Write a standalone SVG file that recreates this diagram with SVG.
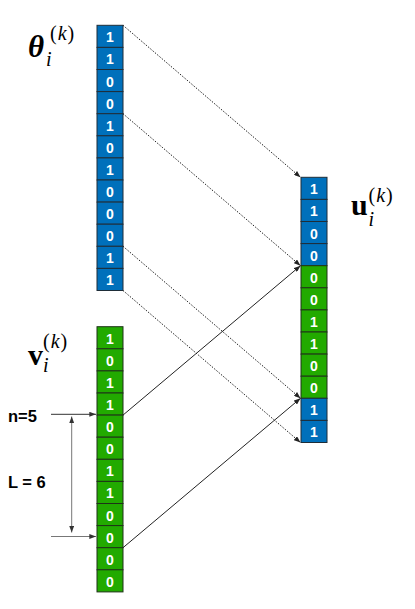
<svg xmlns="http://www.w3.org/2000/svg" width="415" height="609" viewBox="0 0 415 609">
<defs>
<marker id="ah" viewBox="0 0 8 6" refX="8" refY="3" markerWidth="7" markerHeight="5" markerUnits="userSpaceOnUse" orient="auto-start-reverse">
<path d="M0,0 L8,3 L0,6 Z" fill="#222"/>
</marker>
<marker id="ahg" viewBox="0 0 8 6" refX="8" refY="3" markerWidth="7" markerHeight="5" markerUnits="userSpaceOnUse" orient="auto-start-reverse">
<path d="M0,0 L8,3 L0,6 Z" fill="#333"/>
</marker>
</defs>
<style>
.b{fill:#0070BB;stroke:#1e2d38;stroke-width:1}
.g{fill:#22AA00;stroke:#1e3318;stroke-width:1}
.d{font-family:"Liberation Sans",Arial,sans-serif;font-size:14px;font-weight:bold;fill:#fff;text-anchor:middle}
.dot{stroke:#222;stroke-width:1;stroke-dasharray:1.5 1.5;fill:none}
.sol{stroke:#222;stroke-width:1;fill:none}
.lab{font-family:"Liberation Sans",Arial,sans-serif;font-size:16.5px;font-weight:bold;fill:#000}
.m{font-family:"Liberation Serif","Times New Roman",serif;fill:#000}
.sup{font-size:20px;letter-spacing:1px;font-weight:normal;font-style:normal}
.sub{font-size:20px;font-style:italic;font-weight:normal}
</style>
<rect width="415" height="609" fill="#fff"/>

<g id="theta">
<g class="cells">
<rect class="b" x="97" y="25.3" width="26" height="22.1"/><text class="d" x="110" y="42.3">1</text>
<rect class="b" x="97" y="47.4" width="26" height="22.1"/><text class="d" x="110" y="64.4">1</text>
<rect class="b" x="97" y="69.5" width="26" height="22.1"/><text class="d" x="110" y="86.5">0</text>
<rect class="b" x="97" y="91.6" width="26" height="22.1"/><text class="d" x="110" y="108.6">0</text>
<rect class="b" x="97" y="113.7" width="26" height="22.1"/><text class="d" x="110" y="130.7">1</text>
<rect class="b" x="97" y="135.8" width="26" height="22.1"/><text class="d" x="110" y="152.8">0</text>
<rect class="b" x="97" y="157.9" width="26" height="22.1"/><text class="d" x="110" y="174.9">1</text>
<rect class="b" x="97" y="180" width="26" height="22.1"/><text class="d" x="110" y="197">0</text>
<rect class="b" x="97" y="202.1" width="26" height="22.1"/><text class="d" x="110" y="219.1">0</text>
<rect class="b" x="97" y="224.2" width="26" height="22.1"/><text class="d" x="110" y="241.2">0</text>
<rect class="b" x="97" y="246.3" width="26" height="22.1"/><text class="d" x="110" y="263.3">1</text>
<rect class="b" x="97" y="268.4" width="26" height="22.1"/><text class="d" x="110" y="285.4">1</text>
</g>
<text class="m" x="28" y="57" font-size="31" font-weight="bold" font-style="italic">θ<tspan class="sup" x="50" y="40">(<tspan font-style="italic">k</tspan>)</tspan><tspan class="sub" x="46" y="66">i</tspan></text>
</g>

<g id="u">
<g class="cells">
<rect class="b" x="301" y="177.3" width="26" height="22.1"/><text class="d" x="314" y="194.3">1</text>
<rect class="b" x="301" y="199.4" width="26" height="22.1"/><text class="d" x="314" y="216.4">1</text>
<rect class="b" x="301" y="221.5" width="26" height="22.1"/><text class="d" x="314" y="238.5">0</text>
<rect class="b" x="301" y="243.6" width="26" height="22.1"/><text class="d" x="314" y="260.6">0</text>
<rect class="g" x="301" y="265.7" width="26" height="22.1"/><text class="d" x="314" y="282.7">0</text>
<rect class="g" x="301" y="287.8" width="26" height="22.1"/><text class="d" x="314" y="304.8">0</text>
<rect class="g" x="301" y="309.9" width="26" height="22.1"/><text class="d" x="314" y="326.9">1</text>
<rect class="g" x="301" y="332" width="26" height="22.1"/><text class="d" x="314" y="349">1</text>
<rect class="g" x="301" y="354.1" width="26" height="22.1"/><text class="d" x="314" y="371.1">0</text>
<rect class="g" x="301" y="376.2" width="26" height="22.1"/><text class="d" x="314" y="393.2">0</text>
<rect class="b" x="301" y="398.3" width="26" height="22.1"/><text class="d" x="314" y="415.3">1</text>
<rect class="b" x="301" y="420.4" width="26" height="22.1"/><text class="d" x="314" y="437.4">1</text>
</g>
<text class="m" x="351" y="215" font-size="30" font-weight="bold">u<tspan class="sup" x="368.5" y="202">(<tspan font-style="italic">k</tspan>)</tspan><tspan class="sub" x="368.5" y="226">i</tspan></text>
</g>

<g id="v">
<g class="cells">
<rect class="g" x="97" y="326.7" width="26" height="22.1"/><text class="d" x="110" y="343.7">1</text>
<rect class="g" x="97" y="348.8" width="26" height="22.1"/><text class="d" x="110" y="365.8">0</text>
<rect class="g" x="97" y="370.9" width="26" height="22.1"/><text class="d" x="110" y="387.9">1</text>
<rect class="g" x="97" y="393" width="26" height="22.1"/><text class="d" x="110" y="410">1</text>
<rect class="g" x="97" y="415.1" width="26" height="22.1"/><text class="d" x="110" y="432.1">0</text>
<rect class="g" x="97" y="437.2" width="26" height="22.1"/><text class="d" x="110" y="454.2">0</text>
<rect class="g" x="97" y="459.3" width="26" height="22.1"/><text class="d" x="110" y="476.3">1</text>
<rect class="g" x="97" y="481.4" width="26" height="22.1"/><text class="d" x="110" y="498.4">1</text>
<rect class="g" x="97" y="503.5" width="26" height="22.1"/><text class="d" x="110" y="520.5">0</text>
<rect class="g" x="97" y="525.6" width="26" height="22.1"/><text class="d" x="110" y="542.6">0</text>
<rect class="g" x="97" y="547.7" width="26" height="22.1"/><text class="d" x="110" y="564.7">0</text>
<rect class="g" x="97" y="569.8" width="26" height="22.1"/><text class="d" x="110" y="586.8">0</text>
</g>
<text class="m" x="28" y="365" font-size="30" font-weight="bold">v<tspan class="sup" x="43" y="348">(<tspan font-style="italic">k</tspan>)</tspan><tspan class="sub" x="43" y="372">i</tspan></text>
</g>

<g id="annotations">
<text class="lab" x="8" y="422">n=5</text>
<text class="lab" x="8" y="488">L = 6</text>
</g>

<g id="connectors">
<line class="dot" x1="123" y1="25.3" x2="300.5" y2="177.3" marker-end="url(#ah)"/>
<line class="dot" x1="123" y1="113.7" x2="300.5" y2="265.7" marker-end="url(#ah)"/>
<line class="dot" x1="123" y1="246.3" x2="300.5" y2="398.3" marker-end="url(#ah)"/>
<line class="dot" x1="123" y1="290.5" x2="300.5" y2="442.5" marker-end="url(#ah)"/>
<line class="sol" x1="123" y1="415.1" x2="300.5" y2="265.7" marker-end="url(#ah)"/>
<line class="sol" x1="123" y1="547.7" x2="300.5" y2="398.3" marker-end="url(#ah)"/>
<line x1="51" y1="414.3" x2="96" y2="414.3" stroke="#333" stroke-width="1" marker-end="url(#ahg)"/>
<line x1="51" y1="536.5" x2="96" y2="536.5" stroke="#777" stroke-width="1" marker-end="url(#ahg)"/>
<line x1="71.7" y1="416.5" x2="71.7" y2="532.5" stroke="#777" stroke-width="1" marker-start="url(#ahg)" marker-end="url(#ahg)"/>
</g>
</svg>
